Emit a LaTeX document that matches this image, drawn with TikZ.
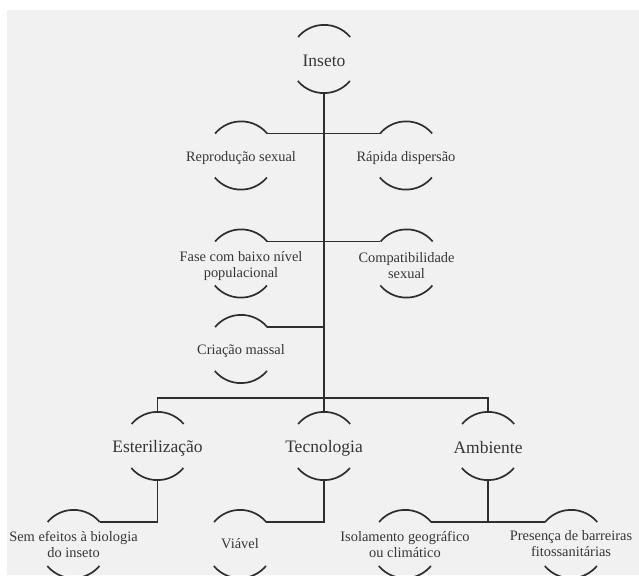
\documentclass[tikz,border=0pt]{standalone}
\usepackage{fontspec}
\setmainfont{Liberation Serif}
\definecolor{ink}{HTML}{2E2E2E}
\definecolor{txt}{HTML}{363636}
\definecolor{paper}{HTML}{F1F1F1}
\begin{document}
\begin{tikzpicture}[x=1pt,y=1pt,
  ring/.style={circle,minimum size=68pt,inner sep=0pt,draw=none},
  small/.style={text=txt,align=center,font=\fontsize{14.4}{16}\selectfont,yshift=-2.5pt},
  big/.style={text=txt,align=center,font=\fontsize{17.5}{20}\selectfont,yshift=-2pt},
  low/.style={text=txt,align=center,font=\fontsize{14.4}{16}\selectfont},
  conn/.style={draw=ink,line width=1.8pt},
  brk/.style={draw=ink,line width=1.7pt}]
\useasboundingbox (0,0) rectangle (639,-575);
\clip (0,0) rectangle (639,-575);
\fill[white] (0,0) rectangle (639,-575);
\fill[paper] (7,-10) rectangle (639,-575);
% circles
\node[ring] (ins) at (324,-59) {};
\node[ring] (rep) at (241,-155.5) {};
\node[ring] (rap) at (406,-155.5) {};
\node[ring] (fas) at (241,-263.5) {};
\node[ring] (com) at (406.5,-263.5) {};
\node[ring] (cri) at (241,-349) {};
\node[ring] (est) at (157.5,-446) {};
\node[ring] (tec) at (324,-446) {};
\node[ring] (amb) at (488,-446) {};
\node[ring] (sem) at (73.5,-544) {};
\node[ring] (via) at (240,-544) {};
\node[ring] (iso) at (405,-544) {};
\node[ring] (pre) at (571,-544) {};
% bracket arcs
\foreach \n in {ins,rep,rap,fas,com,cri,est,tec,amb,sem,via,iso,pre}{
  \draw[brk] (\n.40) arc[start angle=40,end angle=140,radius=34pt];
  \draw[brk] (\n.220) arc[start angle=220,end angle=320,radius=34pt];
}
% labels
\node[big] at (ins) {Inseto};
\node[small] at (rep) {Reprodução sexual};
\node[small] at (rap) {Rápida dispersão};
\node[small] at (fas) {Fase com baixo nível\\populacional};
\node[small] at (com) {Compatibilidade\\sexual};
\node[small] at (cri) {Criação massal};
\node[big] at (est) {Esterilização};
\node[big] at (tec) {Tecnologia};
\node[big] at (amb) {Ambiente};
\node[low] at (sem) {Sem efeitos à biologia\\do inseto};
\node[low] at (via) {Viável};
\node[low] at (iso) {Isolamento geográfico\\ou climático};
\node[low] at (pre) {Presença de barreiras\\fitossanitárias};
% connectors
\coordinate (bar) at (0,-398);
\draw[conn] (ins.south) -- (tec.north);
\draw[conn] (rep.40) -- (rap.140);
\draw[conn] (fas.40) -- (com.140);
\draw[conn] (cri.40) -- (cri.40 -| ins.south);
\draw[conn] (est.north) -- (est.north |- bar) -- (amb.north |- bar) -- (amb.north);
\draw[conn] (est.south) |- (sem.40);
\draw[conn] (tec.south) |- (via.40);
\draw[conn] (amb.south) -- (amb.south |- iso.40);
\draw[conn] (iso.40) -- (pre.140);
\end{tikzpicture}
\end{document}
